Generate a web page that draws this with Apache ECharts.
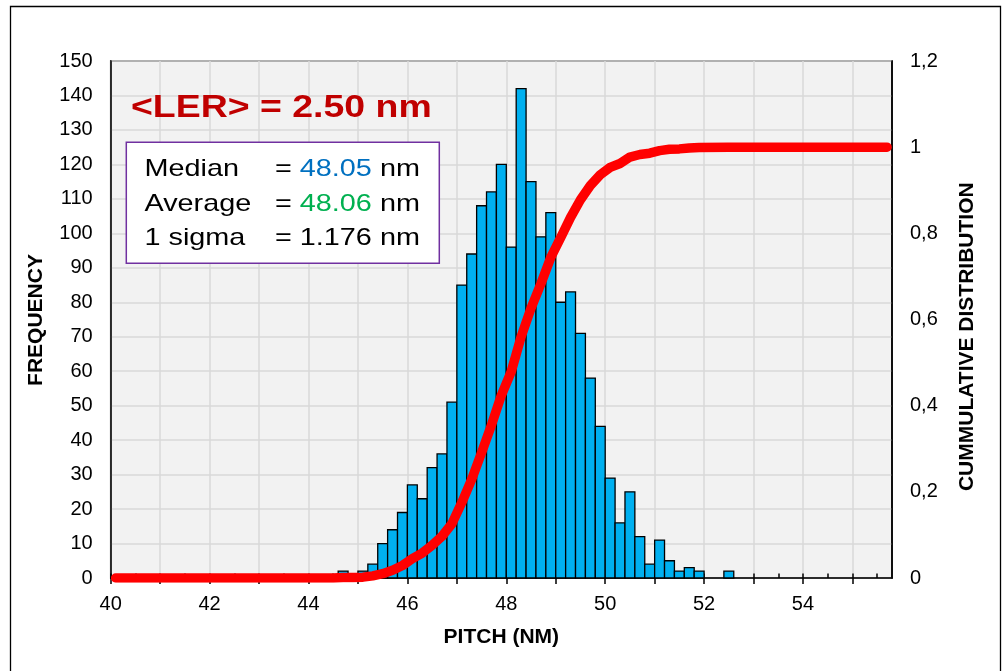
<!DOCTYPE html>
<html>
<head>
<meta charset="utf-8">
<title>Pitch distribution</title>
<script src="https://cdn.jsdelivr.net/npm/echarts@6/dist/echarts.min.js"></script>
<style>
html,body{margin:0;padding:0;background:#fff;}
#chart{width:1007px;height:671px;}
</style>
</head>
<body>
<div id="chart"></div>
<script>
// histogram : start of each 0.2 nm bin and its count
var binStart=[44.6,44.8,45.0,45.2,45.4,45.6,45.8,46.0,46.2,46.4,46.6,46.8,47.0,47.2,47.4,47.6,47.8,48.0,48.2,48.4,
	48.6,48.8,49.0,49.2,49.4,49.6,49.8,50.0,50.2,50.4,50.6,50.8,51.0,51.2,51.4,51.6,51.8,52.0,52.2,52.4];
var freq=[2,0,2,4,10,14,19,27,23,32,36,51,85,94,108,112,120,96,142,115,
	99,106,80,83,71,58,44,29,16,25,12,4,11,5,2,3,2,0,0,2];
var BIN=0.2;

// cumulative distribution (red curve)
var cumX=[40.1,44.5,44.7,44.9,45.1,45.3,45.5,45.7,45.9,46.1,46.3,46.5,46.7,46.9,47.1,47.3,47.5,47.7,47.9,48.1,
	48.3,48.5,48.7,48.9,49.1,49.3,49.5,49.7,49.9,50.1,50.3,50.5,50.7,50.9,51.1,51.3,51.5,51.7,51.9,52.5,55.7];
var cumY=[0,0,0.001,0.001,0.002,0.005,0.01,0.018,0.029,0.045,0.058,0.076,0.097,0.126,0.175,0.229,0.291,0.355,0.424,0.479,
	0.56,0.626,0.683,0.744,0.79,0.837,0.878,0.911,0.936,0.953,0.962,0.977,0.983,0.986,0.992,0.995,0.996,0.998,0.999,1,1];

// x axis ticks / labels
var xTicks=[40,41,42,43,44,45,46,47,48,49,50,51,52,53,54,55];
var xLabels=[40,42,44,46,48,50,52,54];
var xHalf=[];
for(var i=0;i<xTicks.length;i++){
	xHalf.push(xTicks[i]);
	xHalf.push(xTicks[i]+0.5);
}

// stats box
var statNames=['Median','Average','1 sigma'];
var statValues=['48.05','48.06','1.176'];
var statColors=['#0070C0','#00B050','#000000'];

var FONT='"Liberation Sans", Arial, sans-serif';

var histData=[];
for(var i=0;i<binStart.length;i++){
	histData.push([binStart[i],binStart[i]+BIN,freq[i]]);
}
var cumData=[];
for(var i=0;i<cumX.length;i++){
	cumData.push([cumX[i],cumY[i]]);
}

function drawBin(params,api){
	var v=api.value(2);
	if(!v){
		return null;
	}
	var a=api.coord([api.value(0),v]);
	var b=api.coord([api.value(1),0]);
	return {
		type:'rect',
		shape:{x:a[0],y:a[1],width:b[0]-a[0],height:b[1]-a[1]},
		style:{fill:'#00B0F0',stroke:'#000',lineWidth:1.3}
	};
}

var graphics=[
	{	//outer frame
		type:'polyline',z:100,
		shape:{points:[[10.5,690],[10.5,6.5],[1000.5,6.5],[1000.5,690]]},
		style:{stroke:'#000',lineWidth:1.3,fill:null}
	},
	{
		type:'text',z:100,x:131,y:108,scaleX:1.17,
		style:{text:'<LER> = 2.50 nm',fill:'#C00000',fontSize:32,fontWeight:'bold',fontFamily:FONT,verticalAlign:'middle'}
	},
	{
		type:'rect',z:100,
		shape:{x:126.3,y:142.3,width:313,height:121},
		style:{fill:'#fff',stroke:'#7030A0',lineWidth:1.5}
	},
	{
		type:'text',z:100,x:36,y:320,rotation:Math.PI/2,
		style:{text:'FREQUENCY',fill:'#000',fontSize:21,fontWeight:'bold',fontFamily:FONT,align:'center',verticalAlign:'middle'}
	},
	{
		type:'text',z:100,x:967.5,y:336.7,rotation:Math.PI/2,
		style:{text:'CUMMULATIVE DISTRIBUTION',fill:'#000',fontSize:21,fontWeight:'bold',fontFamily:FONT,align:'center',verticalAlign:'middle'}
	},
	{
		type:'text',z:100,x:501.3,y:637.5,
		style:{text:'PITCH (NM)',fill:'#000',fontSize:21,fontWeight:'bold',fontFamily:FONT,align:'center',verticalAlign:'middle'}
	}
];
for(var i=0;i<statNames.length;i++){
	var ty=169.7+i*34.2;
	graphics.push({
		type:'text',z:101,x:144.5,y:ty,scaleX:1.2,
		style:{text:statNames[i],fill:'#000',fontSize:24,fontFamily:FONT,verticalAlign:'middle'}
	});
	graphics.push({
		type:'text',z:101,x:275,y:ty,scaleX:1.2,
		style:{
			text:'= {v|'+statValues[i]+'} nm',fill:'#000',fontSize:24,fontFamily:FONT,verticalAlign:'middle',
			rich:{v:{fill:statColors[i],fontSize:24,fontFamily:FONT}}
		}
	});
}

var chart=echarts.init(document.getElementById('chart'),null,{renderer:'canvas'});
var option={
	backgroundColor:'#ffffff',
	animation:false,
	textStyle:{fontFamily:FONT},
	grid:{
		left:110.7,top:61,right:115,bottom:93,
		show:true,backgroundColor:'#F2F2F2',borderColor:'#000',borderWidth:1.5
	},
	xAxis:[
		{
			type:'value',min:40,max:55.8,interval:1,
			axisLine:{show:true,onZero:false,lineStyle:{color:'#000',width:1.5}},
			axisTick:{show:true,inside:false,length:6,customValues:xTicks,lineStyle:{color:'#000',width:1.5}},
			axisLabel:{customValues:xLabels,color:'#000',fontSize:20,margin:16,fontFamily:FONT},
			splitLine:{show:true,lineStyle:{color:'#D9D9D9',width:1.5}}
		},
		{	//inner half unit ticks
			type:'value',min:40,max:55.8,position:'bottom',
			axisLine:{show:false},
			axisTick:{show:true,inside:true,length:4.5,customValues:xHalf,lineStyle:{color:'#000',width:1.5}},
			axisLabel:{show:false},
			splitLine:{show:false}
		}
	],
	yAxis:[
		{
			type:'value',min:0,max:150,interval:10,
			axisLine:{show:true,lineStyle:{color:'#000',width:1.5}},
			axisTick:{show:false},
			axisLabel:{color:'#000',fontSize:20,margin:18,fontFamily:FONT},
			splitLine:{show:true,lineStyle:{color:'#D9D9D9',width:1.5}}
		},
		{
			type:'value',min:0,max:1.2,interval:0.2,position:'right',
			axisLine:{show:true,lineStyle:{color:'#000',width:1.5}},
			axisTick:{show:false},
			axisLabel:{
				color:'#000',fontSize:20,margin:18,fontFamily:FONT,
				formatter:function(v){
					return String(Math.round(v*10)/10).replace('.',',');
				}
			},
			splitLine:{show:false}
		}
	],
	series:[
		{
			name:'Frequency',
			type:'custom',
			xAxisIndex:0,yAxisIndex:0,
			renderItem:drawBin,
			encode:{x:[0,1],y:2},
			data:histData,
			z:2
		},
		{
			name:'Cumulative',
			type:'line',
			xAxisIndex:0,yAxisIndex:1,
			showSymbol:false,
			lineStyle:{color:'#FF0000',width:9.5,cap:'round',join:'round'},
			data:cumData,
			z:3
		}
	],
	graphic:graphics
};
chart.setOption(option);
</script>
</body>
</html>
